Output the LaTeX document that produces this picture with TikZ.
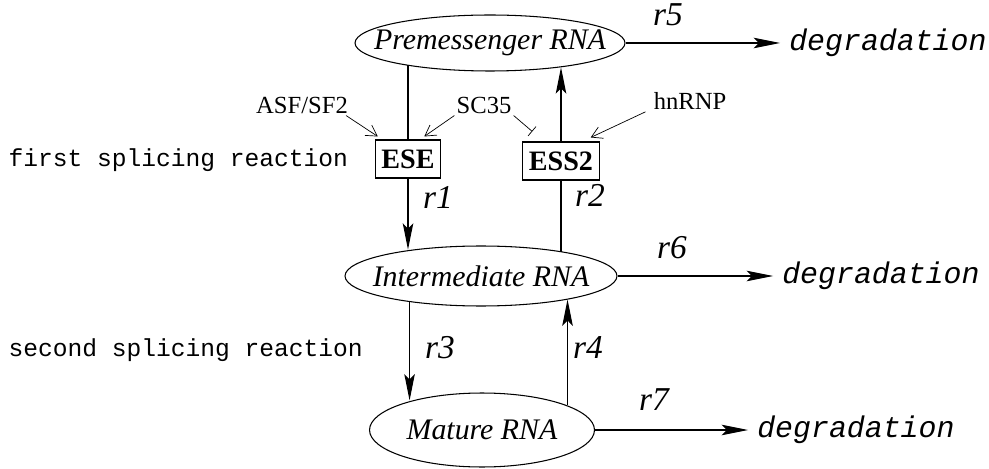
\documentclass[tikz,border=0pt]{standalone}
\usepackage{fontspec}
\setmainfont{Liberation Serif}
\setmonofont{Liberation Mono}
\usetikzlibrary{arrows.meta,shapes.geometric}
\newcommand{\rnatext}[1]{\makebox[0pt]{#1}}

\begin{document}
\begin{tikzpicture}[x=0.02cm,y=-0.02cm,line width=0.6pt,
    rna/.style={draw,ellipse,inner sep=0pt,font=\fontsize{17}{20}\selectfont\itshape},
    elem/.style={draw,rectangle,inner xsep=3.5pt,minimum height=0.76cm,font=\fontsize{16}{19}\selectfont\bfseries},
    rate/.style={inner sep=0pt,font=\fontsize{19}{22}\selectfont\itshape},
    deg/.style={anchor=west,inner xsep=5pt,font=\fontsize{17}{20}\selectfont\ttfamily\itshape},
    factor/.style={inner sep=1pt,font=\fontsize{14}{17}\selectfont},
    stage/.style={anchor=west,inner sep=0pt,font=\fontsize{14}{17}\selectfont\ttfamily},
    flow/.style={-{Stealth[length=15pt,width=6pt,inset=3pt]}},
    act/.style={-{Straight Barb[length=6pt,width=7pt]},line width=0.4pt},
    inh/.style={-{Bar[width=7pt]},line width=0.4pt}]
    \useasboundingbox (0,0) rectangle (989,469);
    \node[rna,minimum width=5.4cm,minimum height=1.12cm] (pre) at (490,43) {\rnatext{Premessenger RNA}};
    \node[rna,minimum width=5.44cm,minimum height=1.2cm] (inter) at (481,276) {\rnatext{Intermediate RNA}};
    \node[rna,minimum width=4.5cm,minimum height=1.48cm] (mature) at (482,430) {\rnatext{Mature RNA}};
    \node[elem] (ese) at (408,159) {ESE};
    \node[elem] (ess) at (561,161) {ESS2};
    \node[factor] (asf) at (302,105) {ASF/SF2};
    \node[factor] (sc) at (484,105) {SC35};
    \node[factor] (hn) at (690,101) {hnRNP};
    \node[stage] (first) at (8,160) {first splicing reaction};
    \node[stage] (second) at (8,350) {second splicing reaction};
    \node[deg] (deg1) at (780,43) {degradation};
    \node[deg] (deg2) at (773,276) {degradation};
    \node[deg] (deg3) at (748,430) {degradation};
    \node[rate] (r1) at (438,197) {r1};
    \node[rate] (r2) at (590,195) {r2};
    \node[rate] (r3) at (440,348) {r3};
    \node[rate] (r4) at (588,348) {r4};
    \node[rate] (r5) at (668,15) {r5};
    \node[rate] (r6) at (672,248) {r6};
    \node[rate] (r7) at (654,400) {r7};
    \draw (pre.195.7 -| ese.north) -- (ese.north);
    \draw[flow] (ess.north) -- (ess.north |- pre.341.5);
    \draw[flow] (ese.south) -- (ese.south |- inter.159.4);
    \draw (ess.south) -- (ess.south |- inter.16.6);
    \draw[flow] (inter.200.9) -- (inter.200.9 |- mature.157.1);
    \draw[flow] (mature.16.6) -- (mature.16.6 |- inter.-15.7);
    \draw[flow] (pre.east) -- (deg1.west);
    \draw[flow] (inter.east) -- (deg2.west);
    \draw[flow] (mature.east) -- (deg3.west);
    \draw[act] ([shift={(-4,0)}]asf.south east) -- ([shift={(3,-3)}]ese.north west);
    \draw[act] (sc.south west) -- ([shift={(-17,-3)}]ese.north east);
    \draw[inh] (sc.south east) -- ([shift={(10,-10)}]ess.north west);
    \draw[act] ([shift={(-6,0)}]hn.south west) -- ([shift={(-9,-4)}]ess.north east);
\end{tikzpicture}
\end{document}
